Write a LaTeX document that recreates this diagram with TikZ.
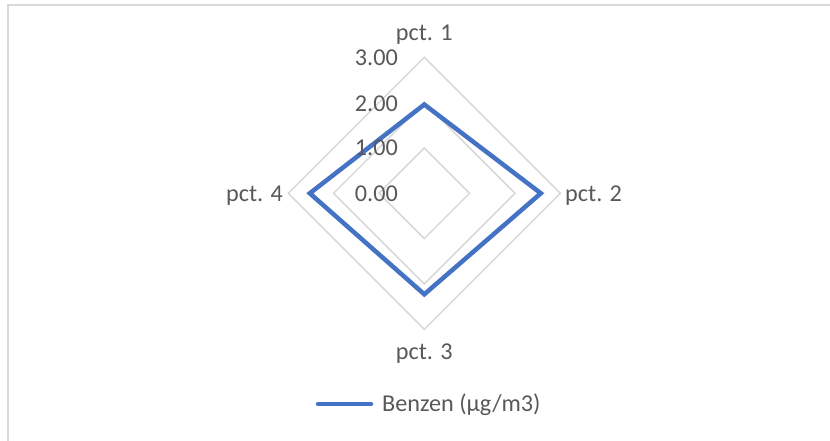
\documentclass[tikz,border=0pt]{standalone}
\usepackage{fontspec}
\setmainfont{Carlito}
\usetikzlibrary{calc}
\definecolor{gridgray}{HTML}{D9D9D9}
\definecolor{labelgray}{HTML}{595959}
\definecolor{seriesblue}{HTML}{4472C4}
\tikzset{
  ring/.style={draw=gridgray, line width=1.5pt},
  frameline/.style={draw=gridgray, line width=1.6pt},
  series/.style={draw=seriesblue, line width=4.5pt, line join=miter},
  lbl/.style={text=labelgray, font=\fontsize{24.2}{28}\selectfont, inner sep=0pt},
}
\begin{document}
\begin{tikzpicture}[x=1pt, y=-1pt]
\useasboundingbox (0,0) rectangle (830,441);
\fill[white] (0,0) rectangle (830,441);
% frame
\coordinate (ftr) at (830,5);
\coordinate (ftl) at (8,5);
\coordinate (fbl) at (8,441);
\draw[frameline] (ftr) -- (ftl) -- (fbl);
% center
\coordinate (c) at (424.3,193.3);
% rings
\foreach \r [count=\i] in {45.3,90.7,136} {
  \draw[ring] ($(c)+(0,-\r)$) -- ($(c)+(\r,0)$) -- ($(c)+(0,\r)$) -- ($(c)+(-\r,0)$) -- cycle;
}
% data
\coordinate (p1) at ($(c)+(0,-88.8)$);
\coordinate (p2) at ($(c)+(116.5,0)$);
\coordinate (p3) at ($(c)+(0,101)$);
\coordinate (p4) at ($(c)+(-114.5,0)$);
\draw[series] (p1) -- (p2) -- (p3) -- (p4) -- cycle;
% axis labels
\node[lbl, anchor=base] (l1) at (424.3,41) {pct. 1};
\node[lbl, anchor=base west] (l2) at (565,201) {pct. 2};
\node[lbl, anchor=base] (l3) at (424.3,359) {pct. 3};
\node[lbl, anchor=base east] (l4) at (283,201) {pct. 4};
% tick labels
\node[lbl, anchor=base east] (t3) at (398,66) {3.00};
\node[lbl, anchor=base east] (t2) at (398,111.6) {2.00};
\node[lbl, anchor=base east] (t1) at (398,155.5) {1.00};
\node[lbl, anchor=base east] (t0) at (398,201) {0.00};
% legend
\coordinate (lg1) at (318,404);
\coordinate (lg2) at (371,404);
\draw[series, line cap=round] (lg1) -- (lg2);
\node[lbl, anchor=base west] (lgt) at (382,411.7) {Benzen (µg/m3)};
\end{tikzpicture}
\end{document}
